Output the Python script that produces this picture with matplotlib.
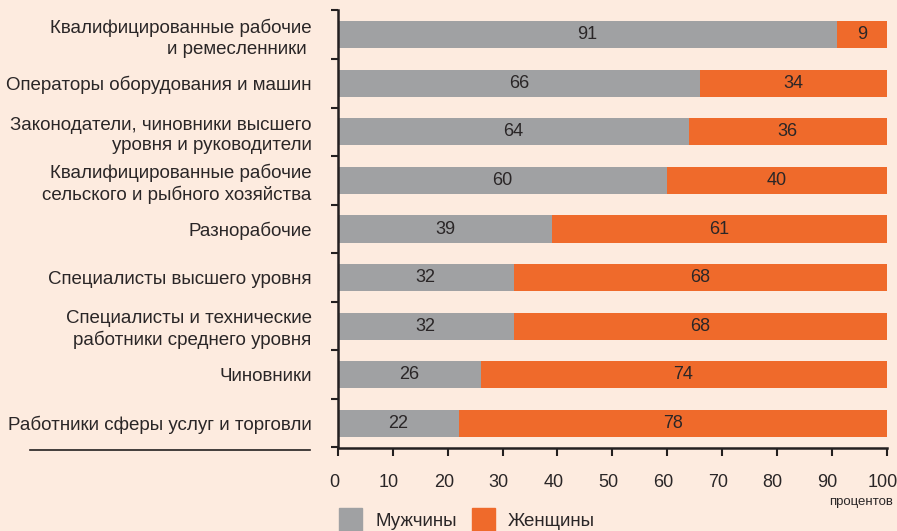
import matplotlib
matplotlib.use("Agg")
import matplotlib.pyplot as plt
from matplotlib.patches import Rectangle
from matplotlib.lines import Line2D
from matplotlib.transforms import ScaledTranslation
import numpy as np

categories = [
    "Квалифицированные рабочие\nи ремесленники ",
    "Операторы оборудования и машин",
    "Законодатели, чиновники высшего\nуровня и руководители",
    "Квалифицированные рабочие\nсельского и рыбного хозяйства",
    "Разнорабочие",
    "Специалисты высшего уровня",
    "Специалисты и технические\nработники среднего уровня",
    "Чиновники",
    "Работники сферы услуг и торговли",
]
men = [91, 66, 64, 60, 39, 32, 32, 26, 22]
women = [9, 34, 36, 40, 61, 68, 68, 74, 78]
xticks = [0, 10, 20, 30, 40, 50, 60, 70, 80, 90, 100]
series_names = ["Мужчины", "Женщины"]

BG = "#fdebdf"
GRAY = "#a0a1a3"
ORANGE = "#ef6a2b"
TXT = "#2a2627"

plt.rcParams['font.family'] = ['Liberation Sans', 'DejaVu Sans']

fig = plt.figure(figsize=(8.97, 5.31), dpi=100, facecolor=BG)
W, H = 897, 531
ax = fig.add_axes([338 / W, 1 - 447.5 / H, (886.5 - 338) / W, (447.5 - 10.5) / H])
ax.set_facecolor(BG)

n = len(categories)
y = np.arange(n)
ax.barh(y, men, height=0.56, color=GRAY)
ax.barh(y, women, left=men, height=0.56, color=ORANGE)

for i in range(n):
    ax.text(men[i] / 2, y[i], str(men[i]), ha='center', va='center', fontsize=13, color=TXT)
    ax.text(men[i] + women[i] / 2, y[i], str(women[i]), ha='center', va='center', fontsize=13, color=TXT)

ax.set_xlim(0, 100)
ax.set_ylim(n - 0.5, -0.5)

ax.set_yticks(y)
ax.set_yticklabels(categories, fontsize=13.5, color=TXT, multialignment='right', linespacing=1.25)
ax.tick_params(axis='y', length=0, pad=19)
ax.set_yticks(np.arange(-0.5, n, 1), minor=True)
ax.tick_params(axis='y', which='minor', length=5, width=1.5, color='#231f20')

ax.set_xticks(xticks)
ax.set_xticklabels([str(v) for v in xticks], fontsize=13, color=TXT)
ax.tick_params(axis='x', length=6, width=1.5, color='#231f20', pad=13)
shift = ScaledTranslation(-4 / 100, 0, fig.dpi_scale_trans)
for lbl in ax.get_xticklabels():
    lbl.set_transform(lbl.get_transform() + shift)

for s in ['top', 'right']:
    ax.spines[s].set_visible(False)
for s in ['left', 'bottom']:
    ax.spines[s].set_linewidth(1.8)
    ax.spines[s].set_color('#231f20')

# separator line under labels
fig.add_artist(Line2D([30 / W, 310 / W], [1 - 450 / H, 1 - 450 / H], color='#231f20', lw=1.2))

fig.text(893 / W, 1 - 502 / H, "процентов", ha='right', va='center', fontsize=9.5, color=TXT)

# legend
fig.add_artist(Rectangle((339 / W, 1 - 531 / H), 23 / W, 23 / H, color=GRAY, transform=fig.transFigure))
fig.text(375 / W, 1 - 521 / H, series_names[0], ha='left', va='center', fontsize=13.5, color=TXT)
fig.add_artist(Rectangle((472 / W, 1 - 531 / H), 23 / W, 23 / H, color=ORANGE, transform=fig.transFigure))
fig.text(508 / W, 1 - 521 / H, series_names[1], ha='left', va='center', fontsize=13.5, color=TXT)

fig.savefig("out.png", dpi=100, facecolor=BG)
